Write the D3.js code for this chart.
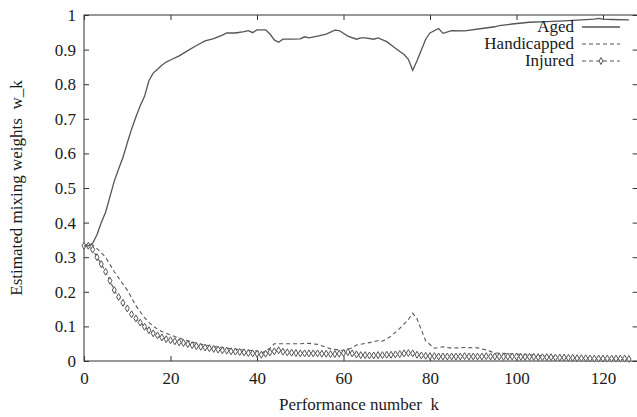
<!DOCTYPE html>
<html><head><meta charset="utf-8">
<script src="https://cdn.jsdelivr.net/npm/d3@7"></script>
<style>
body{margin:0;background:#fff;}
text{font-family:"Liberation Serif","Times New Roman",serif;fill:#1a1a1a;}
</style></head>
<body><svg id="c" width="637" height="417"></svg>
<script>
// ---- data ----
const agedK = [0,1,2,3,4,5,6,7,8,9,10,11,12,13,14,15,16,17,18,19,20,22,24,26,28,30,32,33,35,37,38,39,40,42,43,44,45,46,48,50,51,52,54,56,58,59,61,63,64,65,67,68,70,72,74,75,76,77,79,80,82,83,85,88,92,95,96,99,103,107,111,115,118,119,120,122,126];
const agedW = [0.333,0.333,0.340,0.365,0.400,0.430,0.475,0.520,0.555,0.588,0.630,0.670,0.705,0.738,0.765,0.810,0.832,0.843,0.855,0.864,0.870,0.882,0.897,0.912,0.925,0.932,0.942,0.948,0.948,0.952,0.955,0.949,0.957,0.957,0.945,0.928,0.921,0.930,0.930,0.931,0.937,0.934,0.939,0.945,0.956,0.955,0.939,0.930,0.934,0.934,0.930,0.934,0.923,0.904,0.886,0.872,0.840,0.868,0.930,0.948,0.961,0.947,0.955,0.954,0.961,0.966,0.969,0.974,0.979,0.981,0.983,0.986,0.988,0.990,0.988,0.987,0.986];

const handK = [0,1,2,3,5,7,10,12,14,16,18,20,23,27,30,33,36,40,41,43,44,47,50,52,54,57,60,62,63,66,68,69,71,73,75,76,77,78,79,81,83,85,88,91,93,95,100,104,108,112,116,120,126];
const handW = [0.333,0.338,0.335,0.325,0.300,0.258,0.205,0.160,0.125,0.100,0.085,0.075,0.062,0.048,0.042,0.037,0.033,0.029,0.022,0.037,0.050,0.050,0.050,0.051,0.048,0.035,0.030,0.038,0.046,0.053,0.059,0.057,0.072,0.094,0.120,0.138,0.122,0.090,0.058,0.037,0.041,0.037,0.039,0.038,0.032,0.023,0.020,0.017,0.013,0.010,0.008,0.007,0.005];

// injured: one value per performance k = 0..126
const injW = [0.333,0.333,0.322,0.300,0.280,0.258,0.232,0.205,0.185,0.168,
0.152,0.135,0.123,0.111,0.099,0.089,0.080,0.074,0.068,0.063,
0.060,0.057,0.054,0.052,0.049,0.046,0.043,0.041,0.039,0.037,
0.035,0.033,0.031,0.030,0.028,0.027,0.026,0.025,0.023,0.022,
0.021,0.018,0.021,0.025,0.028,0.031,0.027,0.025,0.024,0.023,
0.022,0.022,0.022,0.022,0.022,0.021,0.021,0.020,0.020,0.021,
0.023,0.026,0.022,0.019,0.017,0.017,0.016,0.016,0.017,0.017,
0.018,0.018,0.019,0.020,0.022,0.023,0.022,0.018,0.016,0.015,
0.014,0.014,0.013,0.013,0.013,0.013,0.013,0.013,0.014,0.013,
0.013,0.013,0.013,0.014,0.013,0.013,0.013,0.012,0.013,0.013,
0.013,0.012,0.012,0.012,0.012,0.011,0.011,0.011,0.011,0.010,
0.010,0.010,0.009,0.009,0.008,0.008,0.008,0.007,0.007,0.007,
0.007,0.007,0.007,0.007,0.007,0.007,0.006];

const xTicks = [0,20,40,60,80,100,120];
const yTicks = [0,0.1,0.2,0.3,0.4,0.5,0.6,0.7,0.8,0.9,1];
const seriesNames = ["Aged","Handicapped","Injured"];

// ---- chart ----
const svg = d3.select("#c");
const x = d3.scaleLinear().domain([0,128]).range([84,637.6]);
const y = d3.scaleLinear().domain([0,1]).range([361,15]);
const ink = "#333", lineCol = "#555";

// frame
svg.append("rect").attr("x",x(0)).attr("y",y(1)).attr("width",x(128)-x(0)).attr("height",y(0)-y(1))
  .attr("fill","none").attr("stroke",ink).attr("stroke-width",1);

const tl = 5;
const axB = svg.append("g").attr("transform",`translate(0,${y(0)})`)
  .call(d3.axisBottom(x).tickValues(xTicks).tickSize(-tl).tickPadding(14).tickFormat(d3.format("d")));
const axT = svg.append("g").attr("transform",`translate(0,${y(1)})`)
  .call(d3.axisTop(x).tickValues(xTicks).tickSize(-tl).tickFormat(""));
const axL = svg.append("g").attr("transform",`translate(${x(0)},0)`)
  .call(d3.axisLeft(y).tickValues(yTicks).tickSize(-tl).tickPadding(14).tickFormat(d=>d===0||d===1?d3.format("d")(d):d3.format(".1f")(d)));
const axR = svg.append("g").attr("transform",`translate(${x(128)},0)`)
  .call(d3.axisRight(y).tickValues(yTicks).tickSize(-tl).tickFormat(""));
[axB,axT,axL,axR].forEach(g=>{
  g.select(".domain").remove();
  g.selectAll(".tick line").attr("stroke",ink);
  g.selectAll("text").attr("font-size",17).attr("fill","#1a1a1a")
   .attr("font-family",'"Liberation Serif","Times New Roman",serif');
});
axL.selectAll("text").attr("x",-8);
axB.selectAll("text").attr("y",11);

// axis titles
svg.append("text").attr("x",359).attr("y",410).attr("text-anchor","middle").attr("font-size",17)
  .style("white-space","pre").text("Performance number  k");
svg.append("text").attr("transform",`translate(22,${(y(0)+y(1))/2}) rotate(-90)`).attr("text-anchor","middle")
  .attr("font-size",17).style("white-space","pre").text("Estimated mixing weights  w_k");

const line = d3.line().x(d=>x(d[0])).y(d=>y(d[1]));
const aged = agedK.map((k,i)=>[k,agedW[i]]);
const hand = handK.map((k,i)=>[k,handW[i]]);
const inj = injW.map((w,k)=>[k,w]);

svg.append("path").attr("d",line(hand)).attr("fill","none").attr("stroke",lineCol).attr("stroke-width",1.1).attr("stroke-dasharray","4,3");
svg.append("path").attr("d",line(inj)).attr("fill","none").attr("stroke",lineCol).attr("stroke-width",1.1).attr("stroke-dasharray","4,3");
const diamond = d3.symbol().type(d3.symbolDiamond).size(14);
svg.append("g").selectAll("path").data(inj).join("path")
  .attr("transform",d=>`translate(${x(d[0])},${y(d[1])})`).attr("d",diamond)
  .attr("fill","#fff").attr("stroke",lineCol).attr("stroke-width",1);
svg.append("path").attr("d",line(aged)).attr("fill","none").attr("stroke",lineCol).attr("stroke-width",1.3);

// legend
const lg = svg.append("g");
const ly = [27,44,61];
seriesNames.forEach((n,i)=>{
  lg.append("rect").attr("x",480).attr("y",ly[i]-8).attr("width",0).attr("height",0);
  lg.append("text").attr("x",574).attr("y",ly[i]+5).attr("text-anchor","end").attr("font-size",17).text(n);
  const ln = lg.append("line").attr("x1",582).attr("x2",620).attr("y1",ly[i]).attr("y2",ly[i])
    .attr("stroke",lineCol).attr("stroke-width",i===0?1.3:1.1);
  if(i>0) ln.attr("stroke-dasharray","4,3");
  if(i===2) lg.append("path").attr("transform",`translate(601,${ly[i]})`).attr("d",diamond)
    .attr("fill","#fff").attr("stroke",lineCol);
});
</script></body></html>
